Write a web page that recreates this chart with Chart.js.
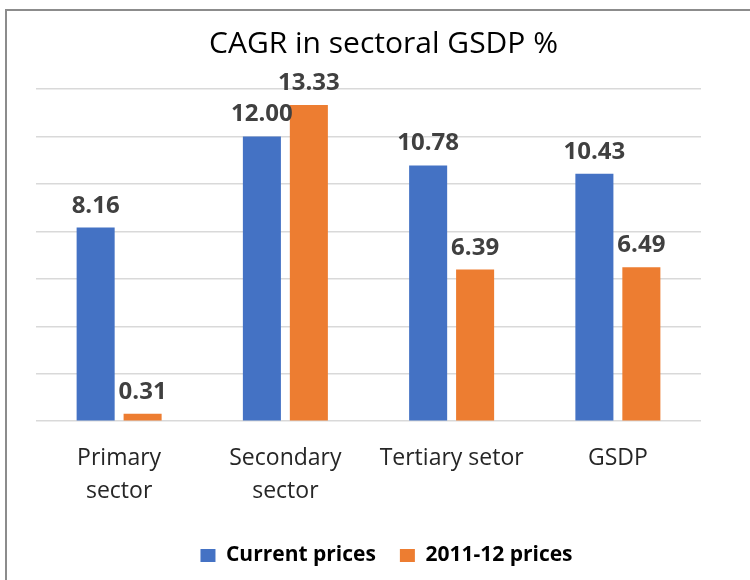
<!DOCTYPE html>
<html>
<head>
<meta charset="utf-8">
<script src="https://cdn.jsdelivr.net/npm/chart.js@4/dist/chart.umd.min.js"></script>
<style>
  html, body { margin: 0; padding: 0; background: #fff; overflow: hidden; }
  #frame {
    position: absolute; left: 5px; top: 9px;
    width: 900px; height: 700px;
    border-left: 2px solid #8c8c8c; border-top: 2px solid #8c8c8c;
  }
  #wrap { position: absolute; left: 0; top: 0; width: 750px; height: 580px; }
</style>
</head>
<body>
<div id="frame"></div>
<div id="wrap"><canvas id="chart" width="750" height="580"></canvas></div>
<script>
// data
const categories = [['Primary', 'sector'], ['Secondary', 'sector'], 'Tertiary setor', 'GSDP'];
const currentPrices = [8.16, 12.00, 10.78, 10.43];
const constantPrices = [0.31, 13.33, 6.39, 6.49];
const seriesNames = ['Current prices', '2011-12 prices'];

const FONT = "'Open Sans', 'DejaVu Sans', sans-serif";

// value labels over each bar
const barLabels = {
    id: 'barLabels',
    afterDatasetsDraw(chart) {
        const ctx = chart.ctx;
        ctx.save();
        ctx.font = `bold 24px ${FONT}`;
        ctx.fillStyle = '#404040';
        ctx.textAlign = 'center';
        ctx.textBaseline = 'alphabetic';
        chart.data.datasets.forEach((ds, i) => {
            chart.getDatasetMeta(i).data.forEach((bar, j) => {
                ctx.fillText(ds.data[j].toFixed(2), bar.x, bar.y - 15);
            });
        });
        ctx.restore();
    }
};

// the original chart is wider than the crop, so title/legend sit right of the plot centre
const shiftBlocks = {
    id: 'shiftBlocks',
    afterLayout(chart) {
        chart.titleBlock.left += 15;
        chart.titleBlock.right += 15;
        chart.legend.left += 18;
        chart.legend.right += 18;
    }
};

new Chart(document.getElementById('chart'), {
    type: 'bar',
    data: {
        labels: categories,
        datasets: [
            { label: seriesNames[0], data: currentPrices, backgroundColor: '#4472C4' },
            { label: seriesNames[1], data: constantPrices, backgroundColor: '#ED7D31' }
        ]
    },
    plugins: [barLabels, shiftBlocks],
    options: {
        responsive: false,
        animation: false,
        categoryPercentage: 0.565,
        barPercentage: 0.81,
        layout: { padding: { left: 36, right: 49, top: 0, bottom: 4 } },
        plugins: {
            title: {
                display: true,
                text: 'CAGR in sectoral GSDP %',
                color: '#000',
                font: { family: FONT, size: 30, weight: 'normal' },
                padding: { top: 26, bottom: 27 }
            },
            legend: {
                position: 'bottom',
                labels: {
                    color: '#000',
                    boxWidth: 15,
                    boxHeight: 13,
                    padding: 24,
                    font: { family: FONT, size: 21, weight: 'bold' }
                }
            },
            tooltip: { enabled: false }
        },
        scales: {
            x: {
                grid: { display: false },
                border: { display: false },
                ticks: {
                    color: '#262626',
                    padding: 13,
                    maxRotation: 0,
                    autoSkip: false,
                    font: { family: FONT, size: 23, lineHeight: 1.43 }
                }
            },
            y: {
                min: 0,
                max: 14,
                ticks: { display: false, stepSize: 2 },
                border: { display: false },
                grid: { color: '#d9d9d9', lineWidth: 1.5, drawTicks: false }
            }
        }
    }
});
</script>
</body>
</html>
